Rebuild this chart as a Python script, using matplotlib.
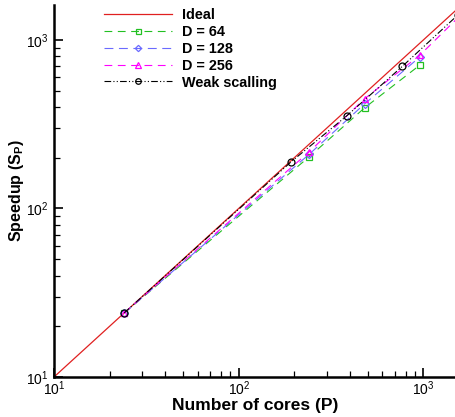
import numpy as np
import matplotlib
matplotlib.use("Agg")
import matplotlib.pyplot as plt

plt.rcParams['font.family'] = ['Liberation Sans', 'DejaVu Sans']
plt.rcParams['mathtext.fontset'] = 'custom'
plt.rcParams['mathtext.rm'] = 'Liberation Sans'
plt.rcParams['mathtext.it'] = 'Liberation Sans:italic'
plt.rcParams['mathtext.bf'] = 'Liberation Sans:bold'

# data
ideal_p = [10, 1500]
strong_p = [24, 240, 480, 960]
d64 = [24, 202, 395, 711]
d128 = [24, 209, 417, 795]
d256_p = [24, 240, 480, 960, 1920]
d256 = [24, 216, 447, 815, 1720]
weak_p = [24, 192, 384, 768, 1536]
weak = [24, 189, 354, 696, 1406]

fig = plt.figure(figsize=(4.56, 4.17), dpi=100)
ax = fig.add_axes([54/456, 40/417, 402/456, 372/417])

ax.plot(ideal_p, ideal_p, color='#e02020', lw=0.9, label='Ideal')
ax.plot(strong_p, d64, color='#22c022', lw=0.8, dashes=(7, 5), marker='s',
        ms=4.5, mfc='none', mew=0.9, label='D = 64')
ax.plot(strong_p, d128, color='#6a6aff', lw=0.8, dashes=(8, 5), marker='D',
        ms=4, mfc='none', mew=0.9, label='D = 128')
ax.plot(d256_p, d256, color='#ff00ff', lw=0.8, dashes=(7, 5), marker='^',
        ms=5, mfc='none', mew=0.9, label='D = 256')
ax.plot(weak_p, weak, color='black', lw=0.8, dashes=(6, 2, 1, 2, 1, 2),
        marker='o', ms=5, mfc='none', mew=0.9, label='Weak scalling')

ax.set_xscale('log')
ax.set_yscale('log')
ax.set_xlim(10, 1500)
ax.set_ylim(10, 1610)

for s in ['top', 'right']:
    ax.spines[s].set_visible(False)
for s in ['left', 'bottom']:
    ax.spines[s].set_linewidth(1.8)

ax.tick_params(which='major', direction='in', length=6.5, width=1.2,
               labelsize=10)
ax.tick_params(which='minor', direction='in', length=4, width=0.9)
ax.tick_params(axis='x', which='major', pad=1.5)
ax.tick_params(axis='y', which='major', pad=4)

ax.set_xlabel('Number of cores (P)', fontsize=12.5, fontweight='bold', labelpad=0)
ax.set_ylabel(r'Speedup (S$_\mathbf{P}$)', fontsize=11.5, fontweight='bold', labelpad=0)

leg = ax.legend(loc='upper left', bbox_to_anchor=(0.124, 0.992), frameon=False,
                handlelength=4.7, handletextpad=0.7, labelspacing=0.2,
                borderpad=0, borderaxespad=0, numpoints=1, markerscale=0.8,
                prop={'weight': 'bold', 'size': 10.4})

fig.savefig('out.png', dpi=100)
